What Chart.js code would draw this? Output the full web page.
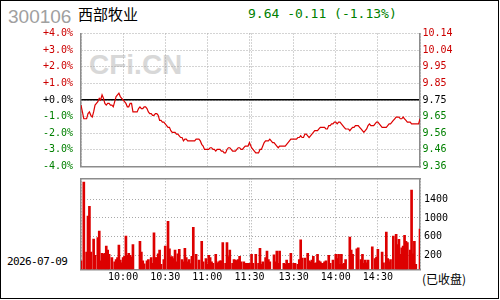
<!DOCTYPE html>
<html>
<head>
<meta charset="utf-8">
<script src="https://cdn.jsdelivr.net/npm/chart.js@4"></script>
<style>
  body { margin: 0; width: 500px; height: 300px; overflow: hidden; background: #fff; position: relative; font-family: "DejaVu Sans Mono", monospace; }
  #frame { position: absolute; left: 0; top: 0; width: 497px; height: 297px; border: 1px solid #000; }
  .txt { position: absolute; white-space: nowrap; }
  #code { left: 8px; top: 7px; font: 19px/19px "Liberation Sans", Arial, sans-serif; color: #a0a0a0; }
  #name { left: 78px; top: 6px; font: 15px/16px "Noto Sans CJK SC", sans-serif; color: #000; }
  #quote { left: 248px; top: 6px; font: 13px/15px "DejaVu Sans Mono", monospace; color: #008000; }
  #mark { left: 89px; top: 51px; font: bold 28px/28px "Liberation Sans", Arial, sans-serif; color: #d8d8d8; }
  #date { left: 7px; top: 256px; font: 11px/12px "DejaVu Sans Mono", monospace; letter-spacing: -0.6px; color: #000; }
  #closed { left: 422px; top: 272px; font: 12px/14px "Noto Sans CJK SC", sans-serif; color: #000; }
  canvas { position: absolute; left: 0; }
  #priceChart { top: 0; }
  #volChart { top: 170px; }
</style>
</head>
<body>
<div id="frame"></div>
<div class="txt" id="mark">CFi.CN</div>
<div class="txt" id="code">300106</div>
<div class="txt" id="name">西部牧业</div>
<div class="txt" id="quote">9.64 -0.11 (-1.13%)</div>
<div class="txt" id="date">2026-07-09</div>
<div class="txt" id="closed">(已收盘)</div>
<canvas id="priceChart" width="500" height="175"></canvas>
<canvas id="volChart" width="500" height="130"></canvas>
<script>
// 昨收
const prevClose = 9.75;

// 分时价格 9:30-11:30
const priceAM = [
  9.72, 9.68, 9.64, 9.64, 9.64, 9.67, 9.68, 9.66, 9.65, 9.68,
  9.72, 9.73, 9.74, 9.76, 9.75, 9.78, 9.76, 9.73, 9.72, 9.73,
  9.73, 9.72, 9.72, 9.71, 9.74, 9.77, 9.78, 9.79, 9.77, 9.76,
  9.75, 9.74, 9.73, 9.71, 9.71, 9.73, 9.73, 9.68, 9.68, 9.68,
  9.68, 9.70, 9.71, 9.70, 9.70, 9.71, 9.71, 9.70, 9.68, 9.67,
  9.67, 9.66, 9.66, 9.67, 9.67, 9.66, 9.63, 9.63, 9.62, 9.62,
  9.61, 9.60, 9.59, 9.59, 9.57, 9.56, 9.56, 9.56, 9.55, 9.55,
  9.54, 9.53, 9.53, 9.51, 9.52, 9.52, 9.51, 9.51, 9.51, 9.51,
  9.51, 9.51, 9.52, 9.52, 9.52, 9.51, 9.49, 9.48, 9.46, 9.46,
  9.46, 9.46, 9.47, 9.47, 9.46, 9.46, 9.45, 9.46, 9.46, 9.46,
  9.45, 9.45, 9.44, 9.44, 9.46, 9.47, 9.47, 9.46, 9.45, 9.45,
  9.45, 9.46, 9.47, 9.47, 9.46, 9.46, 9.47, 9.48, 9.48, 9.48,
  9.50
];

// 分时价格 13:00-15:00
const pricePM = [
  9.47, 9.46, 9.45, 9.44, 9.44, 9.44, 9.46, 9.46, 9.48, 9.50,
  9.51, 9.51, 9.51, 9.52, 9.51, 9.50, 9.50, 9.49, 9.48, 9.47,
  9.48, 9.48, 9.48, 9.48, 9.48, 9.49, 9.50, 9.51, 9.52, 9.52,
  9.52, 9.52, 9.52, 9.53, 9.53, 9.54, 9.53, 9.53, 9.55, 9.55,
  9.54, 9.53, 9.54, 9.55, 9.56, 9.57, 9.57, 9.57, 9.58, 9.59,
  9.59, 9.59, 9.59, 9.58, 9.58, 9.60, 9.60, 9.61, 9.61, 9.62,
  9.62, 9.61, 9.62, 9.62, 9.61, 9.60, 9.59, 9.58, 9.58, 9.58,
  9.57, 9.58, 9.59, 9.59, 9.60, 9.60, 9.60, 9.59, 9.58, 9.57,
  9.56, 9.57, 9.58, 9.60, 9.61, 9.60, 9.60, 9.60, 9.61, 9.62,
  9.62, 9.61, 9.60, 9.59, 9.59, 9.59, 9.59, 9.60, 9.61, 9.61,
  9.62, 9.63, 9.64, 9.65, 9.65, 9.65, 9.64, 9.64, 9.65, 9.64,
  9.63, 9.62, 9.62, 9.62, 9.61, 9.61, 9.61, 9.61, 9.61, 9.61,
  9.64
];

// 成交量(手) 上午 / 下午, null = 无柱
const volAM = [
  80, null, 1770, null, 270, 1040, 1250, 270, null, 550,
  200, null, 580, 720, 80, 240, 220, 240, 400, 310,
  220, null, 150, null, 60, 110, 150, 420, 100, 40,
  150, 180, 610, 200, 240, 200, 160, 430, null, null,
  null, null, 500, 270, 80, 15, null, 80, 110, null,
  150, 30, 680, 150, 150, 230, 310, 5, null, 110,
  400, null, 930, 340, 160, 170, 130, 310, 60, 230,
  330, null, 110, 60, 350, 150, 60, 110, 20, 180,
  800, null, 220, null, 100, null, 500, 60, null, 130,
  5, 200, 150, 60, 30, null, 220, 30, 60, 80,
  80, 470, null, 30, 470, 170, 310, null, 30, 110,
  100, 80, 110, 180, 60, null, 60, 30, 30, 30,
  30
];
const volPM = [
  220, 30, null, 220, null, 30, 350, 5, 60, null,
  150, 290, 110, 60, null, null, 210, 60, 290, 30,
  290, null, null, 30, 5, 100, 30, 30, 240, null,
  30, 30, null, 5, 110, 530, 140, null, 140, null,
  240, 80, 60, 100, 180, 30, 40, 220, 80, 60,
  30, 30, 60, 80, null, 200, 30, null, 100, null,
  220, 130, 220, 5, 220, 5, 30, 110, null, null,
  590, 310, 220, null, null, 340, 360, null, 110, 220,
  30, 100, 40, 100, null, null, 380, null, 130, 160,
  330, null, null, 270, 40, null, 700, 130, 60, 110,
  null, 610, null, 650, 430, 540, 220, 360, 400, 630,
  500, 470, null, 310, 1600, 230, 500, 5, null, null,
  760
];

// 坐标轴刻度
const pctSteps = [-4, -3, -2, -1, 0, 1, 2, 3, 4];
const pctLabels = ["-4.0%", "-3.0%", "-2.0%", "-1.0%", "+0.0%", "+1.0%", "+2.0%", "+3.0%", "+4.0%"];
const priceLabels = ["9.36", "9.46", "9.56", "9.65", "9.75", "9.85", "9.95", "10.04", "10.14"];
const volTicks = [200, 600, 1000, 1400];
const volLabels = ["200", "600", "1000", "1400"];
// 时间轴: 上午分钟 0-120, 下午从 pmOffset 开始
const pmOffset = 121.5;
const timeTicks = [0, 30, 60, 90, 120, pmOffset, pmOffset + 30, pmOffset + 60, pmOffset + 90, pmOffset + 120];
const timeLabels = ["", "10:00", "10:30", "11:00", "11:30", "", "13:30", "14:00", "14:30", ""];

const RED = "#cc0000";
const GREEN = "#008000";
const GRID = "#a8a8a8";
const FRAME = "#8c8c8c";
const tickFont = { family: "DejaVu Sans Mono", size: 10 };

const toPoints = (am, pm) =>
  am.map((v, i) => ({ x: i, y: v })).concat(pm.map((v, i) => ({ x: pmOffset + i, y: v })));

const signColor = (ctx) => {
  const k = pctSteps[ctx.index];
  if (k > 0) return RED;
  if (k < 0) return GREEN;
  return "#000";
};

// 固定坐标轴尺寸, 不让标签撑开绘图区
const fixWidth = (w) => (s) => {
  s.width = w;
  s.paddingTop = 0;
  s.paddingBottom = 0;
};
const fixHeight = (h) => (s) => {
  s.height = h;
  s.paddingLeft = 0;
  s.paddingRight = 0;
};

const xMax = pmOffset + 120;

//价格图
new Chart(document.getElementById("priceChart"), {
  type: "line",
  data: {
    datasets: [
      {
        data: toPoints(priceAM, pricePM),
        borderColor: "#dd0000",
        borderWidth: 1.2,
        pointRadius: 0,
        tension: 0,
        yAxisID: "y",
      },
    ],
  },
  options: {
    responsive: false,
    animation: false,
    devicePixelRatio: 1,
    layout: { padding: { top: 33.5, left: 0, right: 0, bottom: 0 } },
    plugins: { legend: { display: false }, tooltip: { enabled: false } },
    scales: {
      x: {
        type: "linear",
        min: 0,
        max: xMax,
        afterBuildTicks: (s) => { s.ticks = timeTicks.map((v) => ({ value: v })); },
        ticks: { display: false },
        grid: { color: GRID, drawTicks: false },
        border: { color: FRAME, width: 1.5, dash: [1, 2] },
        afterFit: fixHeight(8.5),
      },
      y: {
        position: "left",
        min: prevClose * 0.96,
        max: prevClose * 1.04,
        afterBuildTicks: (s) => { s.ticks = pctSteps.map((k) => ({ value: prevClose * (1 + k / 100) })); },
        ticks: { font: tickFont, color: signColor, padding: 8, autoSkip: false, callback: (v, i) => pctLabels[i] },
        grid: { color: GRID, drawTicks: false },
        border: { color: FRAME, width: 1.5, dash: [1, 2] },
        afterFit: fixWidth(81),
      },
      y2: {
        position: "right",
        min: prevClose * 0.96,
        max: prevClose * 1.04,
        afterBuildTicks: (s) => { s.ticks = pctSteps.map((k) => ({ value: prevClose * (1 + k / 100) })); },
        ticks: { font: tickFont, color: signColor, padding: 2.5, autoSkip: false, callback: (v, i) => priceLabels[i] },
        grid: {
          color: (ctx) => (pctSteps[ctx.index] === 0 ? "#000" : "rgba(0,0,0,0)"),
          lineWidth: 1.5,
          drawTicks: false,
        },
        border: { color: FRAME, width: 1.5 },
        afterFit: fixWidth(80),
      },
    },
  },
});

//成交量图
new Chart(document.getElementById("volChart"), {
  type: "bar",
  data: {
    datasets: [
      {
        data: toPoints(volAM, volPM),
        backgroundColor: "#dd0000",
        barThickness: 2,
        base: -100,
        xAxisID: "x",
        yAxisID: "y",
      },
    ],
  },
  options: {
    responsive: false,
    animation: false,
    devicePixelRatio: 1,
    layout: { padding: { top: 8.3, left: 0, right: 0, bottom: 0 } },
    plugins: { legend: { display: false }, tooltip: { enabled: false } },
    scales: {
      x: {
        type: "linear",
        position: "bottom",
        offset: false,
        min: 0,
        max: xMax,
        afterBuildTicks: (s) => { s.ticks = timeTicks.map((v) => ({ value: v })); },
        ticks: { font: tickFont, color: "#000", padding: 2, autoSkip: false, maxRotation: 0, callback: (v, i) => timeLabels[i] },
        grid: { color: GRID, drawTicks: false, offset: false },
        border: { color: FRAME, width: 1.5, dash: [1, 2] },
        afterFit: fixHeight(30.7),
      },
      xTop: {
        axis: "x",
        type: "linear",
        position: "top",
        min: 0,
        max: 1,
        ticks: { display: false },
        grid: { display: false },
        border: { color: FRAME, width: 1.5 },
        afterFit: fixHeight(0),
      },
      y: {
        position: "right",
        min: -100,
        max: 1850,
        afterBuildTicks: (s) => { s.ticks = volTicks.map((v) => ({ value: v })); },
        ticks: { font: tickFont, color: "#000", padding: 4, autoSkip: false, callback: (v, i) => volLabels[i] },
        grid: { color: GRID, drawTicks: false },
        border: { color: FRAME, width: 1.5, dash: [1, 2] },
        afterFit: fixWidth(80),
      },
      yLeft: {
        axis: "y",
        type: "linear",
        position: "left",
        min: 0,
        max: 1,
        ticks: { display: false },
        grid: { display: false },
        border: { color: FRAME, width: 1.5 },
        afterFit: fixWidth(81),
      },
    },
  },
});
</script>
</body>
</html>
